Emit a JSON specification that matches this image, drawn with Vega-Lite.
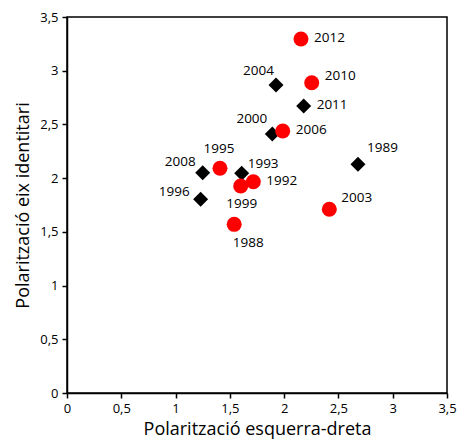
{
  "$schema": "https://vega.github.io/schema/vega-lite/v6.json",
  "width": 380,
  "height": 376,
  "autosize": "none",
  "padding": {"left": 67, "top": 17, "right": 10, "bottom": 51},
  "background": "white",
  "config": {
    "locale": {"number": {"decimal": ",", "thousands": ".", "grouping": [3], "currency": ["", " €"]}},
    "font": "Open Sans",
    "view": {"stroke": "black", "strokeWidth": 1.5},
    "axis": {
      "grid": false,
      "domainColor": "black",
      "domainWidth": 1.5,
      "tickColor": "black",
      "tickWidth": 1.5,
      "tickSize": 5,
      "labelColor": "black",
      "labelFont": "Open Sans",
      "labelFontSize": 13,
      "titleColor": "black",
      "titleFont": "Open Sans",
      "titleFontSize": 18,
      "titleFontWeight": "normal"
    }
  },
  "data": {
    "values": [
      {"any": "1988", "tipus": "Parlament", "x": 1.54, "y": 1.57},
      {"any": "1989", "tipus": "Generals", "x": 2.68, "y": 2.13},
      {"any": "1992", "tipus": "Parlament", "x": 1.716, "y": 1.967},
      {"any": "1993", "tipus": "Generals", "x": 1.609, "y": 2.045},
      {"any": "1995", "tipus": "Parlament", "x": 1.409, "y": 2.092},
      {"any": "1996", "tipus": "Generals", "x": 1.231, "y": 1.803},
      {"any": "1999", "tipus": "Parlament", "x": 1.6, "y": 1.927},
      {"any": "2000", "tipus": "Generals", "x": 1.891, "y": 2.411},
      {"any": "2003", "tipus": "Parlament", "x": 2.416, "y": 1.71},
      {"any": "2004", "tipus": "Generals", "x": 1.925, "y": 2.867},
      {"any": "2006", "tipus": "Parlament", "x": 1.987, "y": 2.439},
      {"any": "2008", "tipus": "Generals", "x": 1.25, "y": 2.051},
      {"any": "2010", "tipus": "Parlament", "x": 2.254, "y": 2.888},
      {"any": "2011", "tipus": "Generals", "x": 2.18, "y": 2.671},
      {"any": "2012", "tipus": "Parlament", "x": 2.155, "y": 3.295}
    ]
  },
  "encoding": {
    "x": {
      "field": "x", "type": "quantitative",
      "scale": {"domain": [0, 3.5], "nice": false, "zero": true},
      "axis": {"values": [0, 0.5, 1, 1.5, 2, 2.5, 3, 3.5], "format": ".1~f", "title": "Polarització esquerra-dreta", "labelPadding": 4, "titlePadding": 5, "labelFlush": false}
    },
    "y": {
      "field": "y", "type": "quantitative",
      "scale": {"domain": [0, 3.5], "nice": false, "zero": true},
      "axis": {"values": [0, 0.5, 1, 1.5, 2, 2.5, 3, 3.5], "format": ".1~f", "title": "Polarització eix identitari", "labelPadding": 4, "titlePadding": 7, "labelFlush": false}
    }
  },
  "layer": [
    {
      "mark": {"type": "point", "filled": true, "opacity": 1, "size": 225},
      "encoding": {
        "shape": {"field": "tipus", "type": "nominal", "scale": {"domain": ["Parlament", "Generals"], "range": ["circle", "diamond"]}, "legend": null},
        "color": {"field": "tipus", "type": "nominal", "scale": {"domain": ["Parlament", "Generals"], "range": ["#ff0000", "#000000"]}, "legend": null}
      }
    },
    {"transform": [{"filter": {"field": "any", "oneOf": ["2012", "2011", "2006", "1992"]}}],
     "mark": {"type": "text", "align": "left", "baseline": "middle", "dx": 13, "dy": -1, "fontSize": 13.5, "color": "black"},
     "encoding": {"text": {"field": "any"}}},
    {"transform": [{"filter": {"field": "any", "oneOf": ["2010"]}}],
     "mark": {"type": "text", "align": "left", "baseline": "middle", "dx": 13, "dy": -7, "fontSize": 13.5, "color": "black"},
     "encoding": {"text": {"field": "any"}}},
    {"transform": [{"filter": {"field": "any", "oneOf": ["1993"]}}],
     "mark": {"type": "text", "align": "left", "baseline": "middle", "dx": 6, "dy": -9, "fontSize": 13.5, "color": "black"},
     "encoding": {"text": {"field": "any"}}},
    {"transform": [{"filter": {"field": "any", "oneOf": ["2003"]}}],
     "mark": {"type": "text", "align": "left", "baseline": "middle", "dx": 12, "dy": -11, "fontSize": 13.5, "color": "black"},
     "encoding": {"text": {"field": "any"}}},
    {"transform": [{"filter": {"field": "any", "oneOf": ["1989"]}}],
     "mark": {"type": "text", "align": "left", "baseline": "middle", "dx": 9, "dy": -16, "fontSize": 13.5, "color": "black"},
     "encoding": {"text": {"field": "any"}}},
    {"transform": [{"filter": {"field": "any", "oneOf": ["2004"]}}],
     "mark": {"type": "text", "align": "right", "baseline": "middle", "dx": -2, "dy": -14, "fontSize": 13.5, "color": "black"},
     "encoding": {"text": {"field": "any"}}},
    {"transform": [{"filter": {"field": "any", "oneOf": ["2000"]}}],
     "mark": {"type": "text", "align": "right", "baseline": "middle", "dx": -5, "dy": -15, "fontSize": 13.5, "color": "black"},
     "encoding": {"text": {"field": "any"}}},
    {"transform": [{"filter": {"field": "any", "oneOf": ["2008"]}}],
     "mark": {"type": "text", "align": "right", "baseline": "middle", "dx": -7, "dy": -11, "fontSize": 13.5, "color": "black"},
     "encoding": {"text": {"field": "any"}}},
    {"transform": [{"filter": {"field": "any", "oneOf": ["1996"]}}],
     "mark": {"type": "text", "align": "right", "baseline": "middle", "dx": -11, "dy": -7, "fontSize": 13.5, "color": "black"},
     "encoding": {"text": {"field": "any"}}},
    {"transform": [{"filter": {"field": "any", "oneOf": ["1995"]}}],
     "mark": {"type": "text", "align": "center", "baseline": "middle", "dx": -1, "dy": -19, "fontSize": 13.5, "color": "black"},
     "encoding": {"text": {"field": "any"}}},
    {"transform": [{"filter": {"field": "any", "oneOf": ["1999"]}}],
     "mark": {"type": "text", "align": "center", "baseline": "middle", "dx": 1, "dy": 18, "fontSize": 13.5, "color": "black"},
     "encoding": {"text": {"field": "any"}}},
    {"transform": [{"filter": {"field": "any", "oneOf": ["1988"]}}],
     "mark": {"type": "text", "align": "center", "baseline": "middle", "dx": 14, "dy": 19, "fontSize": 13.5, "color": "black"},
     "encoding": {"text": {"field": "any"}}}
  ]
}
